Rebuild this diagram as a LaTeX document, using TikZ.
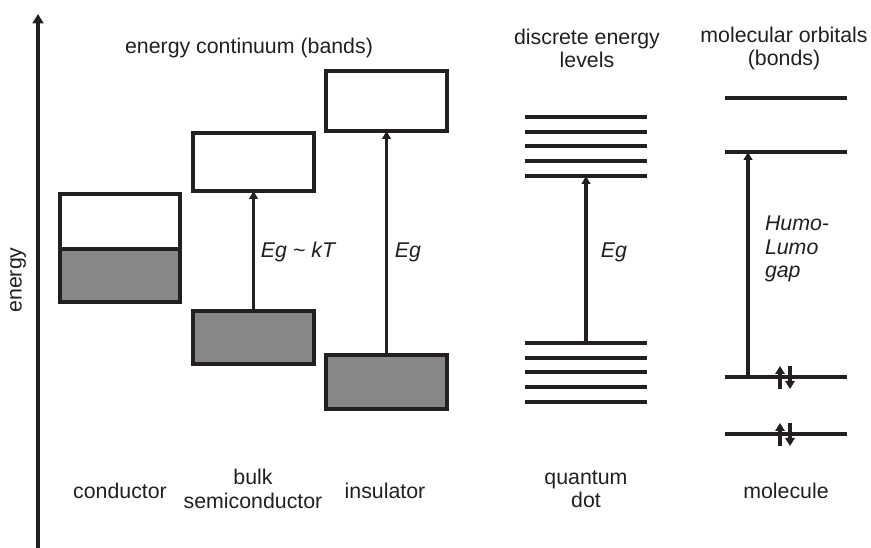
\documentclass[tikz,border=0pt]{standalone}
\usepackage{fontspec}
\setmainfont{Liberation Sans}
\usetikzlibrary{arrows.meta}
\definecolor{ink}{RGB}{35,31,32}
\definecolor{bandgray}{RGB}{135,135,135}
\begin{document}
\begin{tikzpicture}[x=0.75pt,y=-0.75pt,
  every node/.style={font=\fontsize{16}{17.6}\selectfont, text=ink, inner sep=0pt, outer sep=0pt},
  bandbox/.style 2 args={draw=ink, line width=2.4pt, rectangle, minimum width=#1*0.75pt, minimum height=#2*0.75pt},
  valence/.style={fill=bandgray},
  level/.style={draw=ink, line width=2.4pt},
  garrow/.style={draw=ink, line width=2.4pt, -{Triangle[length=6pt,width=6.5pt]}},
  spin/.style={draw=ink, line width=2.4pt, -{Triangle[length=6pt,width=7pt]}},
  axisarrow/.style={draw=ink, line width=2.6pt, -{Triangle[length=7pt,width=8pt]}},
  label/.style={align=center},
  gaplabel/.style={font=\fontsize{16}{17.6}\selectfont\itshape}
]
\useasboundingbox (0,0) rectangle (871,548);

% energy axis
\coordinate (axB) at (38,548);
\coordinate (axT) at (38,14);
\draw[axisarrow] (axB) -- (axT);
\node[rotate=90] (energy) at (18,280) {energy};

% conductor
\node[bandbox={120}{55}] (condC) at (120,221.5) {};
\node[bandbox={120}{53}, valence] (condV) at (120,275.5) {};

% bulk semiconductor
\node[bandbox={121}{58}] (semiC) at (253.5,162) {};
\node[bandbox={121}{53}, valence] (semiV) at (253.5,337.5) {};
\draw[garrow] (semiV.north) -- (semiC.south);
\node[gaplabel] (egkt) at (298,252) {Eg \textasciitilde\ kT};

% insulator
\node[bandbox={121}{60}] (insC) at (386.5,101) {};
\node[bandbox={121}{54}, valence] (insV) at (386.5,382) {};
\draw[garrow] (insV.north) -- (insC.south);
\node[gaplabel] (egins) at (408,252) {Eg};

% quantum dot
\foreach \y in {117,132,146,161,176,343,358,372,387,402}
  \draw[level] (525,\y) -- (647,\y);
\coordinate (qdTop) at (586,176);
\coordinate (qdBot) at (586,343);
\draw[garrow] (qdBot) -- (qdTop);
\node[gaplabel] (egqd) at (614,252) {Eg};

% molecule
\foreach \y in {98,152,377,434}
  \draw[level] (725,\y) -- (847,\y);
\coordinate (lumo) at (748,152);
\coordinate (homo) at (748,377);
\draw[garrow] (homo) -- (lumo);
\node[gaplabel, anchor=west, align=left] (humo) at (765,249) {Humo-\\Lumo\\gap};

\coordinate (s1a) at (780,389); \coordinate (s1b) at (780,366);
\coordinate (s2a) at (790,366); \coordinate (s2b) at (790,389);
\coordinate (s3a) at (780,446); \coordinate (s3b) at (780,423);
\coordinate (s4a) at (790,423); \coordinate (s4b) at (790,446);
\draw[spin] (s1a) -- (s1b);
\draw[spin] (s2a) -- (s2b);
\draw[spin] (s3a) -- (s3b);
\draw[spin] (s4a) -- (s4b);

% headings
\node[label] (bands) at (249,48) {energy continuum (bands)};
\node[label] (discrete) at (587,48.5) {discrete energy\\levels};
\node[label] (orbitals) at (784,48.5) {molecular orbitals\\(bonds)};

% bottom labels
\node[label] (lconductor) at (120,491) {conductor};
\node[label] (lsemi) at (253,489) {bulk\\semiconductor};
\node[label] (linsulator) at (385,491) {insulator};
\node[label] (lqd) at (586,489) {quantum\\dot};
\node[label] (lmol) at (786,491) {molecule};
\end{tikzpicture}
\end{document}
